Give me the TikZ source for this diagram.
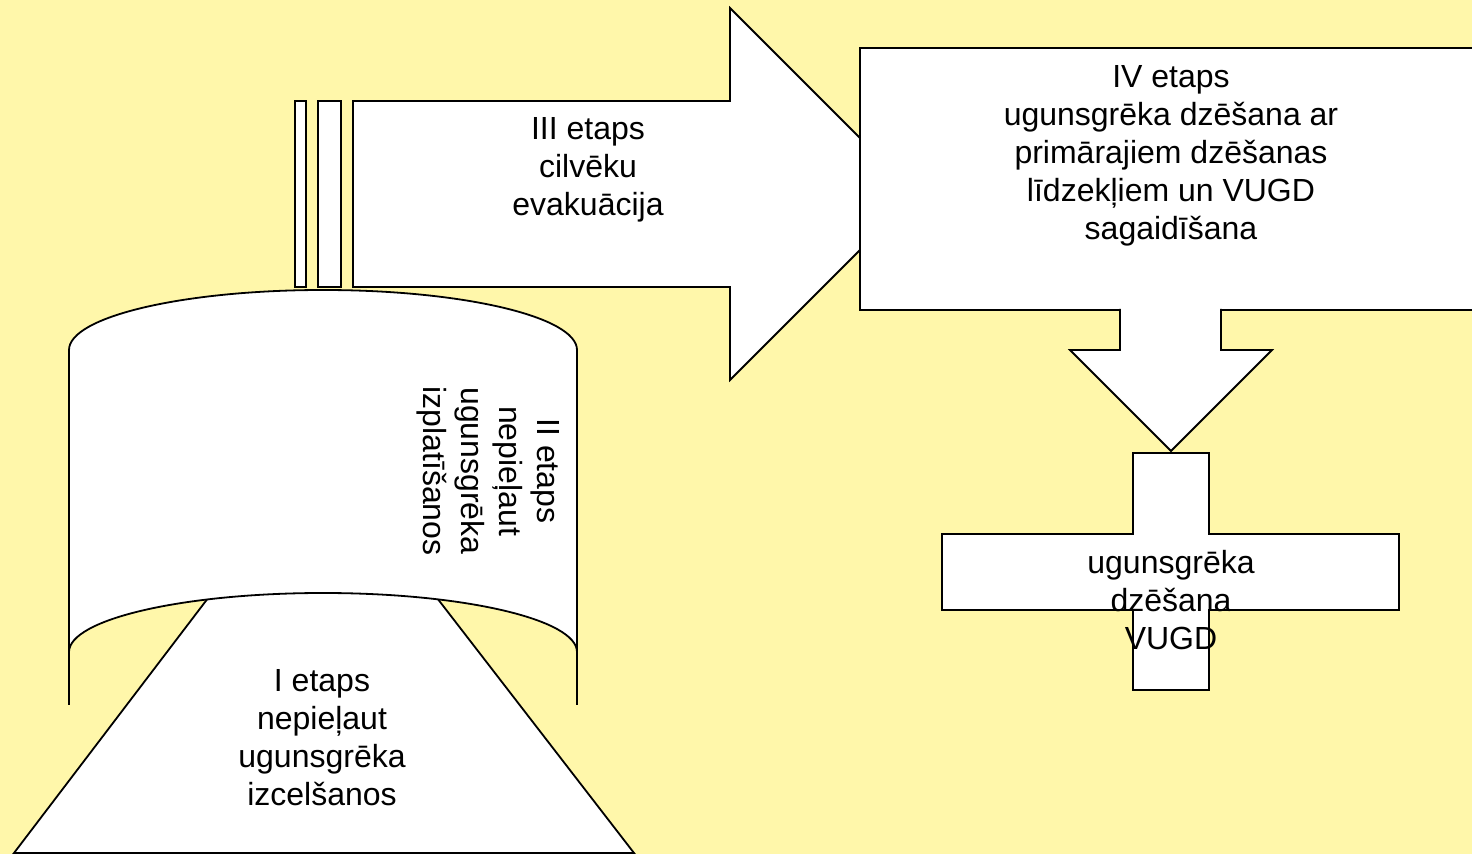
\documentclass[tikz,border=0pt]{standalone}
\usepackage{fontspec}
\setmainfont{Liberation Sans}
\definecolor{bgyellow}{RGB}{255,247,170}
\tikzset{
    shapebox/.style={draw=black,fill=white,line width=0.9pt},
    stagetext/.style={align=center,font=\fontsize{16}{19}\selectfont}
}

\begin{document}
\begin{tikzpicture}[x=0.5pt,y=-0.5pt]
        \useasboundingbox (0,0) rectangle (1472,854);
        \fill[bgyellow] (0,0) rectangle (1472,854); % background

        % stage I: trapezoid
        \filldraw[shapebox] (14,853) -- (218,585) -- (427,585) -- (634,853) -- cycle;
        \node[stagetext] (stageone) at (322,738)
            {I etaps\\nepieļaut\\ugunsgrēka\\izcelšanos};

        % stage II: curved band
        \fill[white] (69,652) -- (69,350)
            .. controls (69,316.9) and (182.7,290) .. (323,290)
            .. controls (463.3,290) and (577,316.9) .. (577,350)
            -- (577,652)
            .. controls (577,619.4) and (463.3,593) .. (323,593)
            .. controls (182.7,593) and (69,619.4) .. (69,652) -- cycle;
        \draw[line width=0.9pt] (69,705) -- (69,350)
            .. controls (69,316.9) and (182.7,290) .. (323,290)
            .. controls (463.3,290) and (577,316.9) .. (577,350) -- (577,705);
        \draw[line width=0.9pt] (577,652)
            .. controls (577,619.4) and (463.3,593) .. (323,593)
            .. controls (182.7,593) and (69,619.4) .. (69,652);
        \node[stagetext,rotate=-90] (stagetwo) at (488,471)
            {II etaps\\nepieļaut\\ugunsgrēka\\izplatīšanos};

        % stage III: striped arrow
        \foreach \a/\b in {295/306,318/341} {\filldraw[shapebox] (\a,101) rectangle (\b,287);}
        \filldraw[shapebox] (353,101) -- (730,101) -- (730,8) -- (916,194)
            -- (730,380) -- (730,287) -- (353,287) -- cycle;
        \node[stagetext] (stagethree) at (588,170)
            {III etaps\\cilvēku\\evakuācija};

        % stage IV: box
        \filldraw[shapebox] (860,48) rectangle (1478,310);
        \node[stagetext] (stagefour) at (1171,156)
            {IV etaps\\ugunsgrēka dzēšana ar\\primārajiem dzēšanas\\līdzekļiem un VUGD\\sagaidīšana};

        % down arrow (top side open)
        \filldraw[shapebox] (1221,309) -- (1221,350) -- (1272,350) -- (1171,451)
            -- (1070,350) -- (1120,350) -- (1120,309);

        % cross
        \filldraw[shapebox] (1133,453) -- (1209,453) -- (1209,534) -- (1399,534)
            -- (1399,610) -- (1209,610) -- (1209,690) -- (1133,690) -- (1133,610)
            -- (942,610) -- (942,534) -- (1133,534) -- cycle;
        \node[stagetext] (fightvugd) at (1171,600)
            {ugunsgrēka\\dzēšana\\VUGD};
\end{tikzpicture}
\end{document}
